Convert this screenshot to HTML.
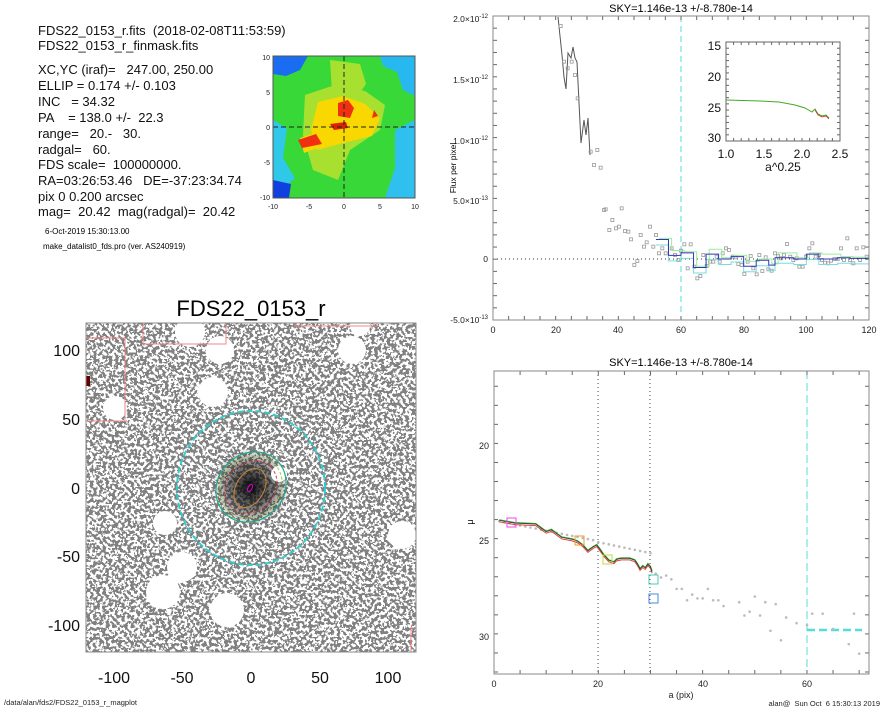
<!DOCTYPE html>
<html><head><meta charset="utf-8"><style>
body{margin:0;background:#fff}
svg{display:block;font-family:"Liberation Sans",sans-serif}
text{white-space:pre}
</style></head><body>
<svg width="885" height="708" viewBox="0 0 885 708" xmlns="http://www.w3.org/2000/svg" xml:space="preserve">
<defs>
<filter id="nz" x="0" y="0" width="100%" height="100%">
<feTurbulence type="fractalNoise" baseFrequency="0.32" numOctaves="2" seed="7"/>
<feColorMatrix type="matrix" values="0 0 0 0 0.22 0 0 0 0 0.22 0 0 0 0 0.22 1 0 0 0 0"/>
<feComponentTransfer><feFuncA type="discrete" tableValues="0 0 0 0 0 1 1 1 1 1"/></feComponentTransfer>
</filter>
<radialGradient id="gal" cx="0.5" cy="0.5" r="0.5">
<stop offset="0" stop-color="#000" stop-opacity="0.95"/>
<stop offset="0.5" stop-color="#111" stop-opacity="0.6"/>
<stop offset="1" stop-color="#333" stop-opacity="0"/>
</radialGradient>
<clipPath id="imc"><rect x="86" y="323" width="330" height="329"/></clipPath>
<clipPath id="thc"><rect x="273" y="56" width="142" height="142"/></clipPath>
</defs>

<g font-size="13" fill="#111">
<text x="38" y="35">FDS22_0153_r.fits  (2018-02-08T11:53:59)</text>
<text x="38" y="50">FDS22_0153_r_finmask.fits</text>
<text x="38" y="74">XC,YC (iraf)=   247.00, 250.00</text>
<text x="38" y="90">ELLIP = 0.174 +/- 0.103</text>
<text x="38" y="106">INC   = 34.32</text>
<text x="38" y="122">PA    = 138.0 +/-  22.3</text>
<text x="38" y="138">range=   20.-   30.</text>
<text x="38" y="154">radgal=   60.</text>
<text x="38" y="169">FDS scale=  100000000.</text>
<text x="38" y="185">RA=03:26:53.46   DE=-37:23:34.74</text>
<text x="38" y="201">pix 0 0.200 arcsec</text>
<text x="38" y="216">mag=  20.42  mag(radgal)=  20.42</text>
</g>
<text x="45" y="234" font-size="8">6-Oct-2019 15:30:13.00</text>
<text x="43" y="249" font-size="8">make_datalist0_fds.pro (ver. AS240919)</text>

<g clip-path="url(#thc)">
<rect x="273" y="56" width="142" height="142" fill="#38d838"/>
<path d="M273 56 h35 l-8 14 l-14 6 l-13 -2z" fill="#1a6cf0"/>
<path d="M380 56 h35 v40 l-12 -6 l-6 -18 l-14 -6z" fill="#28b8f0"/>
<path d="M273 120 l14 8 l-4 30 l12 20 l-22 20z" fill="#30c8e8"/>
<path d="M273 180 l18 4 l-2 14 h-16z" fill="#1040e0"/>
<path d="M395 130 l20 -10 v78 h-30 l10 -30z" fill="#30c0f0"/>
<path d="M330 60 l30 4 l6 20 l-10 14 l-24 -6z" fill="#a8e030"/>
<path d="M305 95 l30 -10 l30 6 l20 14 l-5 25 l-30 20 l-12 30 l-25 -10 l-10 -35z" fill="#a8e030"/>
<path d="M318 102 l25 -6 l22 8 l15 14 l-8 18 l-25 6 l-30 8 l-6 -20z" fill="#f8d800"/>
<path d="M300 138 l22 -7 l8 12 l-26 10z" fill="#f8d800"/>
<path d="M338 103 l10 -3 l6 8 l-4 10 l-12 -2z" fill="#f03010"/>
<path d="M330 124 l16 -2 l2 6 l-14 2z" fill="#e02000"/>
<path d="M298 140 l18 -6 l6 10 l-20 4z" fill="#f03010"/>
<path d="M374 110 l4 6 l-6 2z" fill="#f03010"/>
<line x1="344" y1="56" x2="344" y2="198" stroke="#222" stroke-dasharray="5,3"/>
<line x1="273" y1="127" x2="415" y2="127" stroke="#222" stroke-dasharray="5,3"/>
</g>
<rect x="273" y="56" width="142" height="142" fill="none" stroke="#555"/>
<g font-size="7" fill="#222" text-anchor="end">
<text x="270" y="60">10</text><text x="270" y="95">5</text><text x="270" y="130">0</text><text x="270" y="165">-5</text><text x="270" y="200">-10</text>
</g>
<g font-size="7" fill="#222" text-anchor="middle">
<text x="273" y="209">-10</text><text x="309" y="209">-5</text><text x="344" y="209">0</text><text x="380" y="209">5</text><text x="415" y="209">10</text>
</g>

<text x="251" y="316" font-size="22" text-anchor="middle">FDS22_0153_r</text>
<g clip-path="url(#imc)">
<rect x="86" y="323" width="330" height="329" fill="#fff"/>
<rect x="86" y="323" width="330" height="329" filter="url(#nz)"/>
<ellipse cx="251" cy="487" rx="40" ry="40" fill="url(#gal)"/>
<g fill="#fff">
<circle cx="190" cy="332" r="15"/><circle cx="220" cy="350" r="14"/><circle cx="352" cy="350" r="14"/>
<circle cx="213" cy="392" r="15"/><circle cx="115" cy="408" r="12"/><circle cx="165" cy="523" r="12"/>
<circle cx="182" cy="567" r="15"/><circle cx="163" cy="592" r="17"/><circle cx="227" cy="610" r="17"/>
<circle cx="402" cy="535" r="14"/><circle cx="279" cy="474" r="8"/><circle cx="360" cy="326" r="10"/>
</g>
<g fill="none" stroke="#e88">
<rect x="86" y="338" width="39" height="83"/><rect x="143" y="318" width="83" height="26"/>
<rect x="295" y="318" width="82" height="8"/><rect x="411" y="628" width="10" height="30"/>
</g>
<rect x="86" y="376" width="4" height="10" fill="#600"/>
<ellipse cx="251" cy="488" rx="74" ry="77" fill="none" stroke="#3cc" stroke-width="2" stroke-dasharray="6,3"/>
<ellipse cx="251" cy="487" rx="37" ry="33" transform="rotate(-45 251 487)" fill="none" stroke="#2a8" stroke-width="1.2"/>
<ellipse cx="251" cy="487" rx="33" ry="29" transform="rotate(-45 251 487)" fill="none" stroke="#9c4" stroke-dasharray="3,2"/>
<ellipse cx="251" cy="487" rx="28" ry="24" transform="rotate(-45 251 487)" fill="none" stroke="#c44" stroke-dasharray="3,2"/>
<ellipse cx="250" cy="488" rx="21" ry="14" transform="rotate(-60 250 488)" fill="none" stroke="#c83"/>
<ellipse cx="250" cy="488" rx="4" ry="2" transform="rotate(-60 250 488)" fill="none" stroke="#d0d"/>
</g>
<rect x="86" y="323" width="330" height="329" fill="none" stroke="#888"/>
<g font-size="16" fill="#111" text-anchor="end">
<text x="80" y="356">100</text><text x="80" y="425">50</text><text x="80" y="494">0</text><text x="80" y="562">-50</text><text x="80" y="631">-100</text>
</g>
<g font-size="16" fill="#111" text-anchor="middle">
<text x="114" y="683">-100</text><text x="182" y="683">-50</text><text x="251" y="683">0</text><text x="320" y="683">50</text><text x="388" y="683">100</text>
</g>
<text x="4" y="705" font-size="7.5" fill="#222">/data/alan/fds2/FDS22_0153_r_magplot</text>

<text x="681" y="12" font-size="11" text-anchor="middle">SKY=1.146e-13 +/-8.780e-14</text>
<g id="p1">
<line x1="493" y1="259" x2="869" y2="259" stroke="#333" stroke-dasharray="1,3"/>
<line x1="681" y1="16" x2="681" y2="320" stroke="#5dd" stroke-dasharray="6,4"/>
<g id="p1ticks" stroke="#666"></g>
<polyline fill="none" stroke="#555" stroke-width="1" points="558,17 562,55 564,77 566,89 568,53 571,58 573,47 575,58 577,62 581,143 584,120 586,135 588,118 590,155"/>
<g id="p1pts" fill="none" stroke="#999" stroke-width="0.8"></g>
<g id="p1steps" fill="none" stroke-width="1"></g>
</g>
<rect x="493" y="16" width="376" height="304" fill="none" stroke="#888"/>
<g font-size="8.5" fill="#222" text-anchor="end">
<text x="488" y="22">2.0×10<tspan font-size="6" dy="-4">-12</tspan></text>
<text x="488" y="83">1.5×10<tspan font-size="6" dy="-4">-12</tspan></text>
<text x="488" y="144">1.0×10<tspan font-size="6" dy="-4">-12</tspan></text>
<text x="488" y="204">5.0×10<tspan font-size="6" dy="-4">-13</tspan></text>
<text x="488" y="262">0</text>
<text x="488" y="323">-5.0×10<tspan font-size="6" dy="-4">-13</tspan></text>
</g>
<text transform="translate(456 168) rotate(-90)" font-size="8.5" text-anchor="middle">Flux per pixel</text>
<g font-size="9" fill="#222" text-anchor="middle">
<text x="493" y="333">0</text><text x="556" y="333">20</text><text x="618" y="333">40</text><text x="681" y="333">60</text><text x="744" y="333">80</text><text x="806" y="333">100</text><text x="869" y="333">120</text>
</g>
<rect x="726" y="42" width="114" height="99" fill="#fff" stroke="#666"/>
<g id="insticks" stroke="#666"></g>
<polyline fill="none" stroke="#4a2" stroke-width="1" points="726,100 760,101 779,102 795,105 805,108 812,112 815,109 818,114 822,116 826,115 829,118"/>
<polyline fill="none" stroke="#c33" stroke-width="0.8" points="815,110 818,115 822,117 826,116 829,119"/>
<g font-size="12" fill="#111" text-anchor="end">
<text x="721" y="50">15</text><text x="721" y="81">20</text><text x="721" y="112">25</text><text x="721" y="142">30</text>
</g>
<g font-size="12" fill="#111" text-anchor="middle">
<text x="726" y="158">1.0</text><text x="764" y="158">1.5</text><text x="802" y="158">2.0</text><text x="840" y="158">2.5</text>
<text x="783" y="171">a^0.25</text>
</g>

<text x="681" y="366" font-size="11" text-anchor="middle">SKY=1.146e-13 +/-8.780e-14</text>
<line x1="598" y1="371" x2="598" y2="674" stroke="#444" stroke-dasharray="1,3"/>
<line x1="650" y1="371" x2="650" y2="674" stroke="#444" stroke-dasharray="1,3"/>
<line x1="807" y1="371" x2="807" y2="674" stroke="#5dd" stroke-dasharray="8,4"/>
<line x1="807" y1="630" x2="862" y2="630" stroke="#5dd" stroke-width="2.5" stroke-dasharray="8,4"/>
<g id="p2ticks" stroke="#666"></g>
<g id="p2pts" fill="#bbb"></g>
<polyline id="c2r" fill="none" stroke="#d44" stroke-width="1"/>
<polyline id="c2g" fill="none" stroke="#3a2" stroke-width="1.2"/>
<polyline id="c2k" fill="none" stroke="#333" stroke-width="0.7"/>
<g fill="none" stroke-width="1">
<rect x="507" y="518" width="9" height="9" stroke="#e4e"/>
<rect x="575" y="536" width="9" height="9" stroke="#e93"/>
<rect x="603" y="555" width="9" height="9" stroke="#bd4"/>
<rect x="649" y="575" width="9" height="9" stroke="#4cb"/>
<rect x="649" y="594" width="9" height="9" stroke="#48d"/>
</g>
<rect x="494" y="371" width="375" height="303" fill="none" stroke="#888"/>
<g font-size="9" fill="#222" text-anchor="end">
<text x="489" y="449">20</text><text x="489" y="544">25</text><text x="489" y="640">30</text>
</g>
<text transform="translate(473 522) rotate(-90)" font-size="9" text-anchor="middle">μ</text>
<g font-size="9" fill="#222" text-anchor="middle">
<text x="494" y="687">0</text><text x="598" y="687">20</text><text x="703" y="687">40</text><text x="807" y="687">60</text>
<text x="681" y="698">a (pix)</text>
</g>
<text x="880" y="706" font-size="7.5" fill="#222" text-anchor="end">alan@  Sun Oct  6 15:30:13 2019</text>
</svg>
<script>
var NS="http://www.w3.org/2000/svg";
function el(p,t,a){var e=document.createElementNS(NS,t);for(var k in a)e.setAttribute(k,a[k]);document.getElementById(p).appendChild(e);return e;}
function ticks(id,x0,x1,y0,y1,xs,ys,len){
 xs.forEach(function(x){el(id,'line',{x1:x,y1:y1,x2:x,y2:y1-len});el(id,'line',{x1:x,y1:y0,x2:x,y2:y0+len});});
 ys.forEach(function(y){el(id,'line',{x1:x0,y1:y,x2:x0+len,y2:y});el(id,'line',{x1:x1,y1:y,x2:x1-len,y2:y});});
}
var xs=[],ys=[],i;for(i=0;i<=24;i++)xs.push(493+i*376/24);for(i=0;i<=25;i++)ys.push(16+i*304/25);
ticks('p1ticks',493,869,16,320,xs,ys,4);
xs=[];ys=[];for(i=0;i<=15;i++)xs.push(726+i*114/15);for(i=0;i<=16;i++)ys.push(42+i*99/16);
ticks('insticks',726,840,42,141,xs,ys,3);
xs=[];ys=[];for(i=0;i<=14;i++)xs.push(494+i*26.08);for(i=0;i<=15;i++)ys.push(674-i*19.05-2);
ticks('p2ticks',494,869,371,674,xs,ys,4);
var z=[[362,78],[372,185],[383,205],[395,185],[405,225],[413,295],[452,455],[462,495],[472,450],[482,503],[492,630],[497,628],[508,690],[517,660],[528,685],[537,680],[545,625],[555,693],[565,695],[573,718],[583,795],[592,783],[602,705],[612,740],[620,727],[630,680],[640,740],[648,705],[657,760],[667,745],[677,760],[695,745],[705,765],[715,780],[723,752],[733,733],[743,805],[752,733],[763,800],[772,835],[781,828],[790,765],[800,798],[810,785],[820,785],[830,770],[839,785],[848,760],[858,745],[867,750],[878,770],[887,772],[895,792],[905,795],[913,822],[923,785],[932,768],[940,805],[950,823],[958,765],[967,813],[977,772],[985,808],[995,812],[1005,760],[1014,768],[1023,775],[1032,765],[1041,732],[1051,770],[1060,780],[1070,775],[1078,800],[1088,800],[1098,770],[1108,745],[1117,730],[1127,770],[1137,765],[1146,780],[1155,788],[1165,790],[1173,782],[1183,777],[1193,777],[1203,745],[1212,780],[1222,715],[1230,780],[1240,790],[1250,745],[1260,780],[1270,742],[1280,770]];
z.forEach(function(p){el('p1pts','rect',{x:440+p[0]/3-1.5,y:p[1]/3-1.5,width:3,height:3});});
function X(a){return 493+a*376/120;}function Y(v){return 259-v*12.16;}
function steps(col,d,off){var s='';for(var i=0;i<d.length;i++){var a=d[i][0],b=(i+1<d.length?d[i+1][0]:120),v=d[i][1]+off;s+=X(a)+','+Y(v)+' '+X(b)+','+Y(v)+' ';}
 el('p1steps','polyline',{points:s,stroke:col});}
var B=[[52,1.6],[56,0.3],[60,0.5],[64,-0.7],[68,0.4],[72,0],[76,0.2],[80,-0.6],[84,-0.1],[88,-0.5],[90,0.1],[96,0],[100,0.4],[104,0],[110,0.1],[114,0.05]];
steps('#9e9',B.map(function(p,i){return [p[0]+1,p[1]+(i%3==1?0.4:0.1)];}),0);
steps('#7dd',B,-0.45);
steps('#33b',B,0);
function X2(a){return 494+a*5.217;}function Y2(m){return 446+(m-20)*19.05;}
var c=[[1,23.9],[4,24.05],[8,24.1],[9,24.3],[10,24.5],[11,24.4],[12,24.6],[13,24.8],[15,24.9],[16,25.0],[17,25.2],[18,25.5],[19,25.3],[19.7,25.2],[20.5,25.5],[21,25.7],[22,26.0],[23,26.1],[23.5,25.95],[24.5,25.9],[26,25.9],[27,26.0],[27.5,26.2],[28,26.45],[28.5,26.3],[29,26.4],[29.5,26.2],[30,26.35],[30.3,26.6]];
function pl(id,dy){document.getElementById(id).setAttribute('points',c.map(function(p){return X2(p[0])+','+(Y2(p[1])+dy);}).join(' '));}
pl('c2r',1.5);pl('c2g',-0.5);pl('c2k',0);
var d=[];for(i=1;i<=30;i++)d.push([i,23.95+(i-1)*0.055*(i<20?1:1.05)]);
d=d.concat([[31,26.7],[32,26.9],[33,26.8],[34,27],[35,27.5],[36,27.5],[37,28.1],[38,27.8],[39,28],[40,28],[41,27.5],[42,28.1],[43,28.1],[44,28.4],[47,28.2],[48,28.9],[49,28.7],[50,27.9],[51,28.9],[52,28.2],[53,29.7],[54,28.3],[55,30.2],[56,29],[58,29.3],[60,29.4],[61,28.8],[63,28.8],[65,29.6],[68,30.4],[69,28.8],[70,30.9]]);
d.forEach(function(p){el('p2pts','circle',{cx:X2(p[0]),cy:Y2(p[1]),r:1.3});});
</script>
</body></html>
